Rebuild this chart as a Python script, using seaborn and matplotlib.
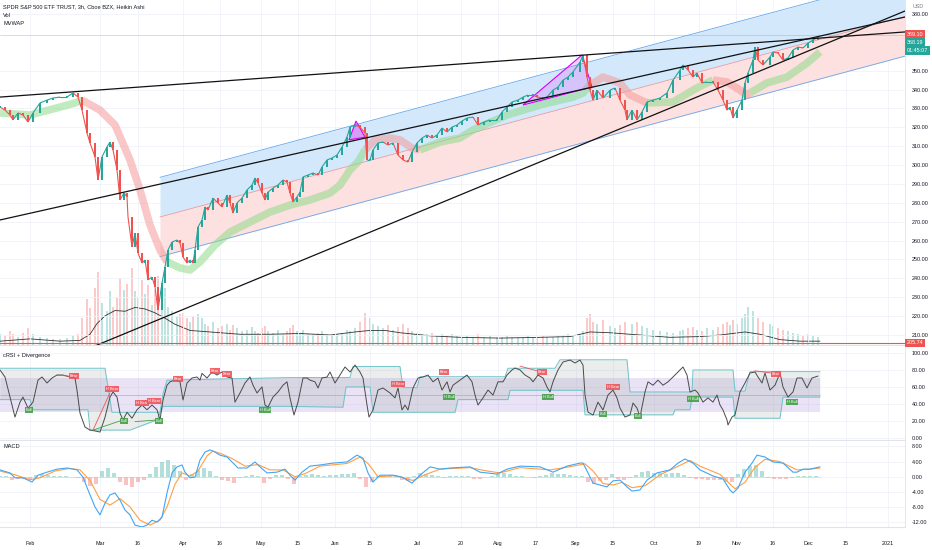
import numpy as np
import matplotlib
matplotlib.use("Agg")
import matplotlib.pyplot as plt
from matplotlib.patches import Polygon
from matplotlib.collections import LineCollection
import seaborn as sns

# ---------------- price panel (Heikin Ashi closes) ----------------
bar_t = [0, 5, 10, 13, 18, 23, 28, 33, 40, 47, 53, 60, 67, 73, 78,
         82, 87, 90, 95, 98, 102, 107, 110, 113, 117, 120, 124, 127, 128, 132, 135, 138, 142, 145, 148, 152, 155, 158,
         162, 165, 168, 172, 177, 180, 183, 187, 190, 193, 195, 198, 202, 205, 208, 213, 218, 222, 227, 230, 233, 237,
         242, 247, 252, 255, 258, 262, 265, 268, 273, 278, 283, 287, 290, 293, 297, 300, 303, 308, 313, 318, 322, 327,
         332, 337, 342, 347, 350, 355, 360,
         365, 367, 370, 373, 378, 383, 388, 393, 398, 403, 408, 412, 417, 422, 427, 432, 437, 442, 447, 452, 457, 462,
         467, 473, 478, 484, 490, 497, 502, 507, 512, 518, 523, 528, 533, 537, 543, 547, 553, 558, 563, 568, 573, 580, 583,
         587, 590, 593, 597, 603, 610, 615, 620, 625, 627, 632, 637, 642, 647, 653, 660, 667, 673, 680, 683, 688, 693,
         697, 702, 707, 713, 718, 723, 727, 730, 733, 737, 742, 745, 748, 753, 755, 758, 763, 770, 773, 778, 783, 788,
         793, 798, 803, 808, 813, 818]
close_px = [330.7, 329.1, 326.5, 323.9, 327.6, 326.5, 322.8, 327.6, 332.9, 334.4, 335.5, 336.0, 336.0, 338.2, 336.0,
            329.1, 317.0, 311.7, 304.3, 292.1, 304.3, 309.6, 312.2, 308.0, 297.4, 281.5, 285.2, 283.1, 272.5, 256.6,
            264.0, 253.4, 248.1, 249.7, 239.1, 240.7, 235.4, 223.2,
            237.5, 246.0, 255.0, 259.2, 260.3, 258.7, 251.3, 248.1, 249.7, 248.1, 255.0, 267.2, 270.9, 277.8, 276.2,
            282.5, 279.9, 277.8, 284.1, 279.9, 274.6, 279.9, 282.5, 286.8, 289.4, 293.1, 290.5, 285.2, 281.5, 285.7,
            287.8, 289.4, 292.1, 291.0, 285.2, 280.4, 283.1, 285.7, 293.7, 294.7, 295.8, 294.7, 299.0, 302.7, 303.7,
            305.3, 309.6, 314.8, 320.1, 321.2, 320.1,
            317.0, 302.7, 302.7, 308.0, 311.7, 312.2, 310.6, 311.7, 305.3, 302.7, 301.6, 306.9, 311.7, 314.3, 315.9,
            314.3, 315.9, 319.6, 317.5, 320.1, 321.2, 323.3, 324.9, 325.4, 321.2, 322.8, 323.9, 323.9, 328.1, 330.7,
            333.4, 334.4, 336.0, 337.1, 337.1, 336.0, 335.5, 336.0, 339.7, 341.3, 345.0, 346.6, 349.3, 354.6, 358.3,
            346.6, 339.7, 334.4, 339.7, 335.5, 339.7, 340.8, 334.4, 329.1, 323.9, 329.1, 323.9, 328.1, 333.4, 334.4,
            335.5, 338.2, 345.0, 350.3, 353.0, 350.3, 346.6, 348.7, 343.5, 344.0, 344.0, 339.7, 334.4, 329.1, 330.7,
            324.9, 329.1, 334.4, 343.5, 348.7, 355.6, 362.5, 355.6, 353.0, 357.2, 359.9, 359.3, 355.6, 356.7, 360.9,
            362.5, 362.0, 364.6, 366.2, 367.8]
volume = [14, 12, 18, 15, 10, 16, 22, 14, 10, 9, 8, 8, 9, 12, 14,
          35, 60, 48, 75, 95, 55, 45, 70, 50, 62, 88, 72, 80, 58, 100, 70, 62, 85, 66, 78, 52, 72, 90,
          60, 75, 50, 45, 38, 40, 42, 35, 30, 38, 32, 40, 35, 28, 25, 30, 22, 25, 28, 20, 26, 22, 18, 20, 24, 18,
          16, 22, 25, 18, 16, 20, 14, 18, 22, 26, 18, 16, 20, 15, 14, 16, 18, 14, 13, 15, 16, 20, 18, 22, 30,
          42, 50, 35, 28, 25, 22, 26, 20, 24, 28, 22, 18, 16, 15, 14, 16, 13, 15, 12, 14, 12, 11, 12, 10, 14, 11,
          12, 10, 11, 12, 10, 11, 10, 12, 11, 10, 12, 11, 10, 12, 13, 14, 12, 15, 18,
          35, 40, 30, 28, 32, 25, 22, 26, 30, 35, 28, 30, 25, 22, 20, 18, 17, 16, 18, 20, 22, 24, 20, 18, 22, 20,
          24, 28, 30, 26, 32, 28, 35, 40, 50, 45, 55, 35, 30, 28, 25, 22, 20, 18, 16, 15, 12, 14, 12, 10]

vol_ma_t = [0, 30, 60, 80, 90, 97, 105, 115, 125, 135, 145, 155, 165, 175, 190, 210, 240, 270, 300, 330,
            355, 370, 385, 400, 430, 460, 500, 540, 570, 590, 610, 640, 670, 700, 720, 745, 760, 780, 800, 820]
vol_ma = [5, 8, 5, 6, 14, 28, 38, 45, 44, 49, 47, 42, 35, 27, 19, 17, 14, 14, 15, 13,
          17, 19, 19, 16, 12, 10, 9, 10, 11, 17, 16, 13, 10, 11, 13, 17, 14, 7, 5, 5]

mvwap_t = [0, 30, 60, 75, 82, 100, 115, 130, 140, 150, 160, 167, 180, 190, 200, 215, 230, 250, 270, 290,
           310, 330, 340, 350, 358, 365, 375, 390, 400, 412, 420, 440, 460, 473, 507, 540, 573, 583, 590, 603,
           620, 630, 647, 673, 693, 707, 713, 727, 740, 746, 750, 767, 787, 807, 820]
mvwap = [327.6, 326.5, 330.7, 332.9, 334.4, 329.1, 321.2, 302.7, 286.8, 268.2, 255.0, 248.7, 245.5, 244.4, 248.7,
         257.6, 264.5, 269.8, 275.1, 278.8, 281.5, 285.2, 289.4, 297.4, 301.6, 308.0, 313.3, 314.3, 313.3, 309.0,
         308.0, 312.2, 314.3, 318.6, 326.5, 331.8, 336.0, 338.2, 342.4, 346.6, 343.5, 337.1, 332.9, 333.4, 339.7,
         343.5, 345.0, 344.0, 339.7, 337.1, 338.2, 343.5, 346.6, 354.0, 359.9]
mvwap_above = [1, 1, 1, 1, 0, 0, 0, 0, 0, 0, 0, 1, 1, 1, 1, 1, 1, 1, 1, 1, 1, 1, 1, 1, 1,
               0, 0, 0, 0, 0, 1, 1, 1, 1, 1, 1, 1, 1, 0, 0, 0, 0, 1, 1, 1, 1, 0, 0, 0, 0, 1, 1, 1, 1, 1]

chan_t = [160, 905]
chan_mid = [272.5, 378.7]
chan_half = 21.0

trend_t = [[0, 905], [0, 905], [90, 905]]
trend_p = [[336.0, 370.5], [270.9, 378.4], [203.1, 381.6]]

tri1_t = [349, 356, 365]
tri1_p = [313.3, 323.3, 314.8]
tri2_t = [523, 582, 592]
tri2_p = [331.8, 358.3, 341.3]

last_close = 369.10
cur_close = "368.19"
countdown = "01:45:07"
low_line = 205.74
price_ticks = [210, 220, 230, 240, 250, 260, 270, 280, 290, 300, 310, 320, 330, 340, 350, 380]

# ---------------- cRSI panel ----------------
crsi_t = [0, 5, 10, 15, 20, 23, 28, 33, 38, 42, 47, 52, 57, 63, 70, 75, 77, 80, 85, 90, 95, 100, 105, 110, 113,
          117, 120, 123, 127, 132, 137, 142, 147, 152, 157, 160, 163, 167, 170, 175, 180, 183, 187, 192, 197, 200,
          202, 207, 212, 217, 222, 227, 232, 235, 240, 245, 250, 253, 257, 262, 265, 268, 273, 278, 283, 287, 290,
          294, 298, 303, 307, 310, 315, 318, 322, 327, 330, 335, 340, 345, 350, 355, 360, 363, 367, 369, 373, 378,
          383, 390, 395, 398, 402, 405, 408, 413, 418, 423, 428, 433, 438, 442, 447, 450, 453, 460, 467, 472, 475,
          478, 483, 488, 493, 498, 503, 507, 512, 515, 520, 525, 530, 533, 538, 543, 547, 550, 553, 558, 563, 570,
          575, 580, 583, 585, 588, 593, 598, 603, 608, 613, 617, 620, 625, 630, 633, 637, 640, 645, 648, 653, 658,
          663, 668, 673, 678, 683, 687, 690, 695, 698, 703, 708, 713, 717, 720, 723, 727, 728, 732, 735, 740, 745,
          750, 755, 758, 762, 765, 770, 775, 780, 783, 788, 793, 797, 802, 807, 812, 815, 818]
crsi = [80, 71.7, 48, 24.4, 42, 48, 35, 42, 68, 71.7, 64.6, 70.5, 74, 74, 71.7, 70.5, 56, 29, 12.6, 9, 8, 6.7,
        24, 48, 54, 48, 29, 21, 30, 23, 33, 38.6, 33, 38.6, 33, 21, 44.5, 62, 66, 68, 66, 44.5, 64.6, 70.5, 71.7,
        68, 76, 70.5, 77.6, 74, 77.6, 71.7, 70.5, 42, 52.8, 64.6, 71.7, 62, 52.8, 60, 38.6, 36, 48, 54, 62, 66,
        47, 26.8, 42, 70.5, 70.5, 68, 66, 58.7, 70.5, 71.7, 77.6, 64.6, 74, 83.5, 77.6, 85.8, 77.6, 70.5, 38.6,
        24.4, 32.7, 56.3, 58.7, 52.8, 47, 58.7, 32.7, 38.6, 32.7, 58.7, 70.5, 71.7, 74, 66, 70.5, 56.3, 66, 54,
        62, 68, 74, 66, 50.4, 38.6, 47, 56.3, 50.4, 66, 66, 74, 80, 82.3, 80, 74, 70.5, 66, 74, 70.5, 59.8, 54,
        66, 80, 89.4, 91.7, 88.2, 91.7, 85.8, 50.4, 30.3, 26.8, 42, 32.7, 50.4, 56.3, 47, 35, 24.4, 26.8, 41, 35,
        24.4, 54, 66, 62, 68, 62, 66, 71.7, 77.6, 83.5, 74, 54, 56.3, 52.8, 42, 47, 42, 50.4, 38.6, 32.7, 21, 15,
        24.4, 26.8, 54, 64.6, 76.4, 77.6, 71.7, 64.6, 76.4, 56.3, 62, 76.4, 59.8, 48, 54, 70.5, 70.5, 58.7, 70.5,
        71.7, 72.8]

band_t = [0, 30, 33, 88, 90, 105, 112, 130, 157, 160, 163, 167, 290, 343, 346, 350, 353, 370, 373, 400, 403, 417,
          420, 455, 458, 505, 508, 510, 555, 560, 583, 585, 627, 630, 673, 675, 690, 692, 693, 730, 733, 735, 745,
          750, 780, 783, 820]
band_up = [82, 82, 82, 82, 82, 82, 30, 30, 30, 30, 52, 68, 71, 71, 71, 71, 84, 84, 84, 84, 59, 59,
           72, 72, 72, 72, 82, 82, 82, 92, 92, 92, 92, 54, 54, 54, 54, 54, 80, 80, 80, 55, 55,
           78, 78, 78, 78]
band_lo = [45, 45, 33, 33, 9, 9, 9, 9, 21, 29, 37, 37, 37, 36, 60, 60, 60, 60, 30, 30, 30, 30,
           30, 30, 45, 45, 45, 56, 56, 56, 56, 27, 27, 27, 27, 33, 33, 48, 48, 48, 48, 23, 23,
           23, 23, 48, 48]

div_t = [29, 74, 112, 124, 142, 154, 159, 178, 215, 227, 265, 398, 444, 449, 542, 548, 603, 613, 638, 693, 776, 792]
div_v = [32.7, 72.8, 57.5, 19.7, 41.0, 43.3, 19.7, 69.3, 78.7, 75.2, 32.7, 63.4, 77.6, 48.0, 77.6, 48.0, 28.0,
         59.8, 25.6, 45.7, 75.2, 42.0]
div_txt = ["Bull", "Bear", "H Bear", "Bull", "H Bear", "H Bear", "Bull", "Bear", "Bear", "Bear", "H Bull",
           "H Bear", "Bear", "H Bull", "Bear", "H Bull", "Bull", "H Bear", "Bull", "H Bull", "Bear", "H Bull"]
div_line_t = [[57, 75], [93, 110], [93, 123], [135, 158], [520, 538], [755, 780]]
div_line_v = [[74, 72], [9, 53], [9, 21], [19, 21], [84.5, 78.7], [79, 75]]
div_line_kind = ["bear", "bear", "bull", "bull", "bear", "bear"]

# ---------------- MACD panel ----------------
macd_t = [0, 10, 15, 23, 32, 38, 47, 57, 67, 77, 83, 88, 95, 100, 105, 110, 115, 120, 125, 130, 135, 142, 147,
          152, 157, 162, 167, 172, 177, 182, 185, 190, 195, 200, 205, 210, 215, 220, 227, 232, 238, 247, 255, 260,
          267, 277, 285, 290, 295, 302, 310, 320, 333, 347, 357, 363, 368, 373, 380, 393, 402, 412, 420, 430, 440,
          450, 470, 480, 497, 507, 520, 540, 553, 567, 580, 583, 588, 593, 600, 607, 613, 620, 627, 632, 640, 647,
          657, 670, 678, 685, 693, 700, 713, 723, 730, 733, 738, 745, 752, 757, 765, 773, 783, 793, 797, 803, 810, 820]
macd = [1.8, 1.0, -0.3, -0.3, -1.4, 0.4, 1.2, 2.0, 2.3, 1.8, -0.1, -3.5, -8, -10.1, -7, -4.8, -4.3, -6.2, -8.8,
        -10.1, -12.8, -13.3, -12.8, -11.5, -12, -10.7, -4.3, 1.0, 2.6, 3.1, 1.2, -0.3, -0.1, 4.4, 6.5, 7.1, 6.5,
        5.7, 5.2, 3.9, 2.3, 2.3, 3.9, 2.6, 1.0, 1.2, 2.0, 0.4, -0.9, 1.2, 2.8, 3.1, 3.6, 3.9, 5.7, 4.9, 1.0, -1.4,
        0.4, 0.4, -0.1, -1.7, 0.4, 2.6, 2.0, 2.3, 2.6, 1.2, 0.7, 2.0, 2.8, 2.6, 1.2, 2.8, 3.6, 3.6, 1.0, -1.7,
        -2.2, -2.7, -1.1, -0.9, -2.7, -3.8, -3.5, -0.9, 1.0, 1.8, 3.6, 4.7, 3.6, 1.8, 0.2, -0.6, -3.5, -4.3, -3.0,
        1.2, 3.6, 5.7, 5.2, 3.9, 3.6, 1.2, 1.2, 2.0, 2.0, 2.6]
sig_t = [0, 15, 30, 40, 55, 70, 80, 90, 100, 110, 120, 130, 140, 150, 160, 167, 175, 182, 190, 198, 207, 213, 222,
         232, 245, 258, 270, 283, 295, 305, 320, 347, 360, 368, 378, 395, 413, 425, 440, 470, 485, 500, 520, 550,
         565, 585, 593, 603, 613, 622, 632, 645, 660, 680, 690, 700, 720, 735, 745, 755, 765, 780, 797, 810, 820]
sig = [1.5, 0.5, -0.8, -0.3, 1.5, 2.2, 1.8, -1.0, -6.0, -7.5, -5.8, -8.0, -11.5, -12.8, -11.5, -8.0, -2.0, 1.0,
       0.2, 1.5, 5.5, 6.8, 6.0, 4.8, 2.8, 3.2, 1.8, 1.8, 0.0, 0.8, 2.8, 3.5, 5.2, 3.5, 0.0, 0.3, -1.0, 0.5, 2.0,
       2.4, 1.6, 1.0, 2.4, 1.8, 2.4, 3.4, 1.5, -1.8, -2.2, -1.5, -2.9, -2.4, 0.5, 3.0, 4.3, 2.8, 0.6, -3.2, -1.5,
       2.5, 4.6, 4.0, 1.8, 2.0, 2.3]
hist_step = 6
hist = [0.3, 0.2, -0.8, -0.6, -0.5, -0.6, 0.5, 0.6, 0.4, 0.3, 0.2, 0.1, 0.0, -0.4, -1.5, -2.4, -1.8, 1.5, 2.3,
        1.0, -1.5, -2.2, -2.7, -1.5, -0.8, 0.8, 2.5, 4.0, 4.4, 3.0, 1.5, -0.8, 0.8, 1.8, 2.3, 1.5, 0.2, -0.8,
        -1.2, -1.7, -0.3, 0.3, 0.5, 0.2, -1.6, -0.5, 0.4, 0.5, -0.6, -1.8, 0.3, 0.5, 0.6, 0.4, 0.3, 0.5, 0.4,
        0.6, 0.8, 1.0, -0.5, -2.7, -1.5, 0.3, 0.3, 0.2, 0.1, -0.8, -1.2, 0.3, 1.0, 0.8, 0.4, 0.2, -0.3, 0.3,
        0.2, 0.2, 0.3, -0.5, -0.6, -0.2, 0.3, 0.8, 0.9, 0.7, 0.3, 0.2, -0.2, -0.3, 0.2, 0.5, 0.9, 0.8, 0.6,
        0.4, 0.3, 0.2, -1.5, -1.8, -1.2, -1.0, 0.6, -0.6, -0.9, -0.4, 0.4, 1.3, 1.5, 1.0, 0.9, 0.8, 1.0, 0.9,
        0.4, -0.4, -0.5, -0.6, -0.8, -0.9, -0.8, -1.3, -1.5, 0.8, 2.0, 2.8, 3.0, 1.5, -0.4, -0.6, -0.5, -0.6,
        -0.3, 0.2, 0.3, 0.2, 0.2]

# ---------------- time axis ----------------
tick_t = [30, 100, 138, 183, 220, 261, 298, 335, 370, 417, 461, 498, 536, 576, 613, 654, 699, 736, 773, 808, 846, 888]
tick_lab = ["Feb", "Mar", "16", "Apr", "16", "May", "15", "Jun", "15", "Jul", "20", "Aug", "17", "Sep", "15",
            "Oct", "19", "Nov", "16", "Dec", "15", "2021"]

title = "SPDR S&P 500 ETF TRUST, 3h, Cboe BZX, Heikin Ashi"

GREEN = "#26a69a"
RED = "#ef5350"
TXT = "#131722"
GRID = "#f0f3fa"
SEP = "#e0e3eb"
FS = 3.9

sns.set_theme(style="white")
plt.rcParams["font.family"] = ["Liberation Sans", "DejaVu Sans"]

fig = plt.figure(figsize=(9.32, 5.5), dpi=100)
fig.patch.set_facecolor("white")
W = 905 / 932
ax_p = fig.add_axes([0, 205 / 550, W, 345 / 550])
ax_c = fig.add_axes([0, 110 / 550, W, 93 / 550])
ax_m = fig.add_axes([0, 23 / 550, W, 86 / 550])
ax_v = ax_p.twinx()
ax_p.set_zorder(ax_v.get_zorder() + 1)
ax_p.patch.set_visible(False)

for a in (ax_p, ax_c, ax_m):
    a.set_xlim(0, 905)
    a.set_xticks(tick_t)
    a.yaxis.tick_right()
    a.grid(True, color=GRID, lw=0.6)
    a.set_axisbelow(True)
    for s in ("left", "top"):
        a.spines[s].set_visible(False)
    a.spines["right"].set_color(SEP)
    a.spines["right"].set_linewidth(0.6)
    a.spines["bottom"].set_color(SEP)
    a.spines["bottom"].set_linewidth(0.8)
    a.tick_params(axis="y", length=0, pad=5, labelsize=FS, colors=TXT)
    a.tick_params(axis="x", length=0)
ax_p.set_xticklabels([])
ax_c.set_xticklabels([])
ax_m.set_xticklabels(tick_lab)
ax_m.tick_params(axis="x", pad=10, labelsize=FS, colors=TXT)

# ---- price panel ----
ax_p.set_ylim(204.68, 387.42)
ax_v.set_ylim(0, 450)
ax_v.set_yticks([])
for s in ax_v.spines.values():
    s.set_visible(False)

t = np.array(bar_t, float)
close = np.array(close_px)
opn = np.r_[close[0], close[:-1]]
t_prev = np.r_[t[0] - 4, t[:-1]]
gap = t - t_prev
width = np.clip(gap * 0.6, 0.9, 2.6)
rising = close >= opn
cols = np.where(rising, GREEN, RED)
body = np.where(np.abs(close - opn) < 0.5, 0.5, close - opn)

ax_v.bar(t, volume, width=np.clip(gap * 0.4, 0.8, 1.6), color=cols, alpha=0.3, lw=0)
sns.lineplot(x=vol_ma_t, y=vol_ma, ax=ax_v, color="#333333", lw=0.6, estimator=None, sort=False)

# regression channel
cm = np.array(chan_mid)
ax_p.fill_between(chan_t, cm, cm + chan_half, color="#d3e8fb", lw=0, zorder=1)
ax_p.fill_between(chan_t, cm - chan_half, cm, color="#fde0e0", lw=0, zorder=1)
for off, c in ((chan_half, "#64a8f0"), (-chan_half, "#64a8f0"), (0, "#f29a9a")):
    sns.lineplot(x=chan_t, y=cm + off, ax=ax_p, color=c, lw=0.6, zorder=1.5)

# MVWAP band coloured by side
mv_t = np.array(mvwap_t)
mv = np.array(mvwap)
side = np.array(mvwap_above)
start = 0
for i in range(1, len(side) + 1):
    if i == len(side) or side[i] != side[start]:
        stop = min(i + 1, len(side))
        sns.lineplot(x=mv_t[start:stop], y=mv[start:stop], ax=ax_p,
                     color="#8fdc8a" if side[start] else "#f59a9a", lw=5.5, alpha=0.55,
                     solid_capstyle="butt", zorder=2, estimator=None, sort=False)
        start = i

# harmonic triangles
for tt, pp, a_fill in ((tri1_t, tri1_p, 0.45), (tri2_t, tri2_p, 0.22)):
    ax_p.add_patch(Polygon(list(zip(tt, pp)), closed=True, fc="#e040fb", alpha=a_fill, lw=0, zorder=3))
    ax_p.add_patch(Polygon(list(zip(tt, pp)), closed=True, fill=False, ec="#d500f9", lw=0.8, zorder=3.2))

# Heikin Ashi candles: thin bodies plus open->close strokes so the run reads as one dense path
segs = [[(a0, o), (a1, c)] for a0, a1, o, c in zip(t_prev, t, opn, close)]
ax_p.add_collection(LineCollection(segs, colors=cols, linewidths=0.8, zorder=4))
ax_p.bar(t, body, bottom=opn, width=width, color=cols, lw=0, zorder=4.2)

for tt, pp in zip(trend_t, trend_p):
    sns.lineplot(x=tt, y=pp, ax=ax_p, color="#111111", lw=0.9, zorder=5)

ax_p.axhline(last_close, color="#9598a1", lw=0.4, alpha=0.6, zorder=1.2)
ax_p.axhline(low_line, color=RED, lw=0.8, zorder=5)

ax_p.set_yticks(price_ticks)
ax_p.set_yticklabels([f"{v:.2f}" for v in price_ticks])


def price_box(axis, y, text, fc, dy=0.0):
    axis.annotate(text, xy=(1, y), xycoords=("axes fraction", "data"), xytext=(1.2, dy),
                  textcoords="offset points", ha="left", va="center", fontsize=FS, color="white",
                  bbox=dict(boxstyle="square,pad=0.35", fc=fc, ec="none"), annotation_clip=False, zorder=10)


price_box(ax_p, last_close, f"{last_close:.2f}", RED)
price_box(ax_p, last_close, cur_close, GREEN, dy=-5.8)
price_box(ax_p, last_close, countdown, GREEN, dy=-11.6)
price_box(ax_p, low_line, f"{low_line:.2f}", RED)

fig.text(918 / 932, 1 - 6 / 550, "USD", ha="center", va="center", fontsize=FS, color="#787b86")
fig.text(3 / 932, 1 - 7 / 550, title, ha="left", va="center", fontsize=4.1, color=TXT)
fig.text(3 / 932, 1 - 15.5 / 550, "Vol", ha="left", va="center", fontsize=4.1, color=TXT)
fig.text(3 / 932, 1 - 23.5 / 550, "MVWAP", ha="left", va="center", fontsize=4.1, color=TXT)

# ---- cRSI panel ----
ax_c.set_ylim(-2.7, 107.1)
ax_c.fill_between([0, 820], 30, 70, color="#9575cd", alpha=0.2, lw=0, zorder=1)
ax_c.fill_between(band_t, band_lo, band_up, color="#8a9a90", alpha=0.17, lw=0, zorder=1.2)
sns.lineplot(x=band_t, y=band_up, ax=ax_c, color="#6cc3c9", lw=0.7, zorder=2, estimator=None, sort=False)
sns.lineplot(x=band_t, y=band_lo, ax=ax_c, color="#6cc3c9", lw=0.7, zorder=2, estimator=None, sort=False)
sns.lineplot(x=[0, 820], y=[50, 50], ax=ax_c, color="#a0a0a8", lw=0.4, zorder=2)
sns.lineplot(x=crsi_t, y=crsi, ax=ax_c, color="#4a4a4a", lw=0.7, zorder=3, estimator=None, sort=False)
for tt, vv, k in zip(div_line_t, div_line_v, div_line_kind):
    sns.lineplot(x=tt, y=vv, ax=ax_c, color=RED if k == "bear" else "#43a047", lw=0.6, zorder=3.5)
for tt, vv, tx in zip(div_t, div_v, div_txt):
    fc = "#43a047" if "Bull" in tx else "#f0545b"
    ax_c.text(tt, vv, tx, ha="center", va="center", fontsize=2.8, color="white", zorder=6,
              bbox=dict(boxstyle="square,pad=0.3", fc=fc, ec="none", alpha=0.9))
crsi_ticks = [0, 20, 40, 60, 80, 100]
ax_c.set_yticks(crsi_ticks)
ax_c.set_yticklabels([f"{v:.2f}" for v in crsi_ticks])
fig.text(3 / 932, 1 - 356 / 550, "cRSI + Divergence", ha="left", va="center", fontsize=4.1, color=TXT)

# ---- MACD panel ----
ax_m.set_ylim(-13.3, 9.44)
h = np.array(hist)
h_t = np.arange(len(h)) * hist_step
ax_m.bar(h_t, h, width=hist_step * 0.8, color=np.where(h >= 0, GREEN, RED), alpha=0.35, lw=0, zorder=1)
sns.lineplot(x=[0, 820], y=[0, 0], ax=ax_m, color="#c8ccd4", lw=0.4, zorder=1.5)
sns.lineplot(x=macd_t, y=macd, ax=ax_m, color="#42a5f5", lw=0.8, zorder=3, estimator=None, sort=False)
sns.lineplot(x=sig_t, y=sig, ax=ax_m, color="#ff9f43", lw=0.8, zorder=2.5, estimator=None, sort=False)
macd_ticks = [-12, -8, -4, 0, 4, 8]
ax_m.set_yticks(macd_ticks)
ax_m.set_yticklabels([f"{v:.2f}" for v in macd_ticks])
fig.text(3 / 932, 1 - 447 / 550, "MACD", ha="left", va="center", fontsize=4.1, color=TXT)

for a in (ax_p, ax_c, ax_m, ax_v):
    a.set_xlabel("")
    a.set_ylabel("")

fig.savefig("out.png", dpi=100)
